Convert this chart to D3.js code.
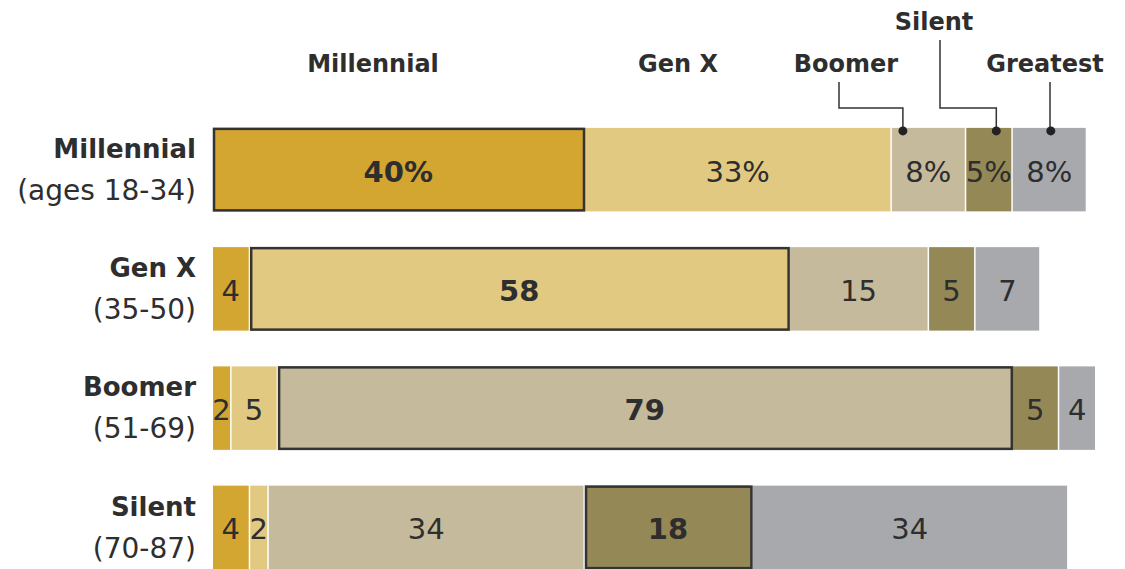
<!DOCTYPE html>
<html>
<head>
<meta charset="utf-8">
<script src="https://cdn.jsdelivr.net/npm/d3@7/dist/d3.min.js"></script>
<style>
  body { margin: 0; background: #fff; }
  svg text { font-family: "DejaVu Sans", "Open Sans", sans-serif; fill: #2e2e2e; }
</style>
</head>
<body>
<div class="chart"></div>
<script>
// generations (stack order) and the row groups
const generations = ["Millennial", "Gen X", "Boomer", "Silent", "Greatest"];
const rows = ["Millennial", "Gen X", "Boomer", "Silent"];
const rowAges = ["(ages 18-34)", "(35-50)", "(51-69)", "(70-87)"];

// share of each row, by generation
const millennialRow = [40, 33, 8, 5, 8];
const genXRow = [4, 58, 15, 5, 7];
const boomerRow = [2, 5, 79, 5, 4];
const silentRow = [4, 2, 34, 18, 34];
const values = [millennialRow, genXRow, boomerRow, silentRow];

const colors = ["#d3a632", "#e2c981", "#c5bb9c", "#948956", "#a8a9ad"];

const width = 1125, height = 569;

const svg = d3.select(".chart").append("svg")
  .attr("width", width)
  .attr("height", height);

const x = d3.scaleLinear().domain([0, 100]).range([213, 1143]);
const y = d3.scaleBand().domain(rows).range([110, 587])
  .paddingInner(0.3).paddingOuter(0.15);

const color = d3.scaleOrdinal().domain(generations).range(colors);

// flatten into segments
const segs = [];
rows.forEach((r, i) => {
  let acc = 0;
  values[i].forEach((v, j) => {
    segs.push({ row: r, ri: i, gen: generations[j], v: v, x0: acc, x1: acc + v, own: generations[j] === r });
    acc += v;
  });
});

const gap = 1.5;

svg.selectAll(".seg")
  .data(segs)
  .enter().append("rect")
  .attr("class", "seg")
  .attr("x", d => x(d.x0))
  .attr("y", d => y(d.row))
  .attr("width", d => Math.max(0, x(d.x1) - x(d.x0) - gap))
  .attr("height", y.bandwidth())
  .attr("fill", d => color(d.gen));

// outline on the row's own generation
svg.selectAll(".own")
  .data(segs.filter(d => d.own))
  .enter().append("rect")
  .attr("class", "own")
  .attr("x", d => x(d.x0) + 1)
  .attr("y", d => y(d.row) + 1)
  .attr("width", d => x(d.x1) - x(d.x0) - 2)
  .attr("height", y.bandwidth() - 2)
  .attr("fill", "none")
  .attr("stroke", "#333")
  .attr("stroke-width", 2.5);

// value labels
svg.selectAll(".val")
  .data(segs)
  .enter().append("text")
  .attr("class", "val")
  .attr("x", d => (x(d.x0) + x(d.x1) - gap) / 2)
  .attr("y", d => y(d.row) + y.bandwidth() / 2 + 12)
  .attr("text-anchor", "middle")
  .style("font-size", "29px")
  .style("font-weight", d => d.own ? "bold" : "normal")
  .text(d => d.ri === 0 ? d.v + "%" : d.v);

// row labels
const rowLab = svg.selectAll(".rowLab")
  .data(rows)
  .enter().append("g")
  .attr("class", "rowLab");

rowLab.append("text")
  .attr("x", 196)
  .attr("y", d => y(d) + 30)
  .attr("text-anchor", "end")
  .style("font-size", "26px")
  .style("font-weight", "bold")
  .text(d => d);

rowLab.append("text")
  .attr("x", 196)
  .attr("y", (d, i) => y(d) + 72)
  .attr("text-anchor", "end")
  .style("font-size", "28px")
  .text((d, i) => rowAges[i]);

// legend labels over the top row
const legend = [
  { gen: "Millennial", lx: 373, ly: 72 },
  { gen: "Gen X", lx: 678, ly: 72 },
  { gen: "Boomer", lx: 846, ly: 72, lineX: 839, dotOff: 11 },
  { gen: "Silent", lx: 934, ly: 30, lineX: 940, dotOff: 30 },
  { gen: "Greatest", lx: 1045, ly: 72, lineX: 1050, dotOff: 38 }
];

svg.selectAll(".leg")
  .data(legend)
  .enter().append("text")
  .attr("class", "leg")
  .attr("x", d => d.lx)
  .attr("y", d => d.ly)
  .attr("text-anchor", "middle")
  .style("font-size", "24px")
  .style("font-weight", "bold")
  .text(d => d.gen);

const topY = y(rows[0]);
const topSegs = segs.filter(d => d.ri === 0);
const leaders = legend.filter(d => d.lineX);

leaders.forEach(d => {
  const s = topSegs.find(t => t.gen === d.gen);
  const dx = x(s.x0) + d.dotOff;
  const y0 = d.ly + 10;
  const path = Math.abs(dx - d.lineX) < 1
    ? `M${d.lineX},${y0}V${topY + 3}`
    : `M${d.lineX},${y0}V108H${dx}V${topY + 3}`;
  svg.append("path")
    .attr("d", path)
    .attr("fill", "none")
    .attr("stroke", "#333")
    .attr("stroke-width", 1.5);
  svg.append("circle")
    .attr("cx", dx)
    .attr("cy", topY + 3)
    .attr("r", 4.5)
    .attr("fill", "#222");
});
</script>
</body>
</html>
